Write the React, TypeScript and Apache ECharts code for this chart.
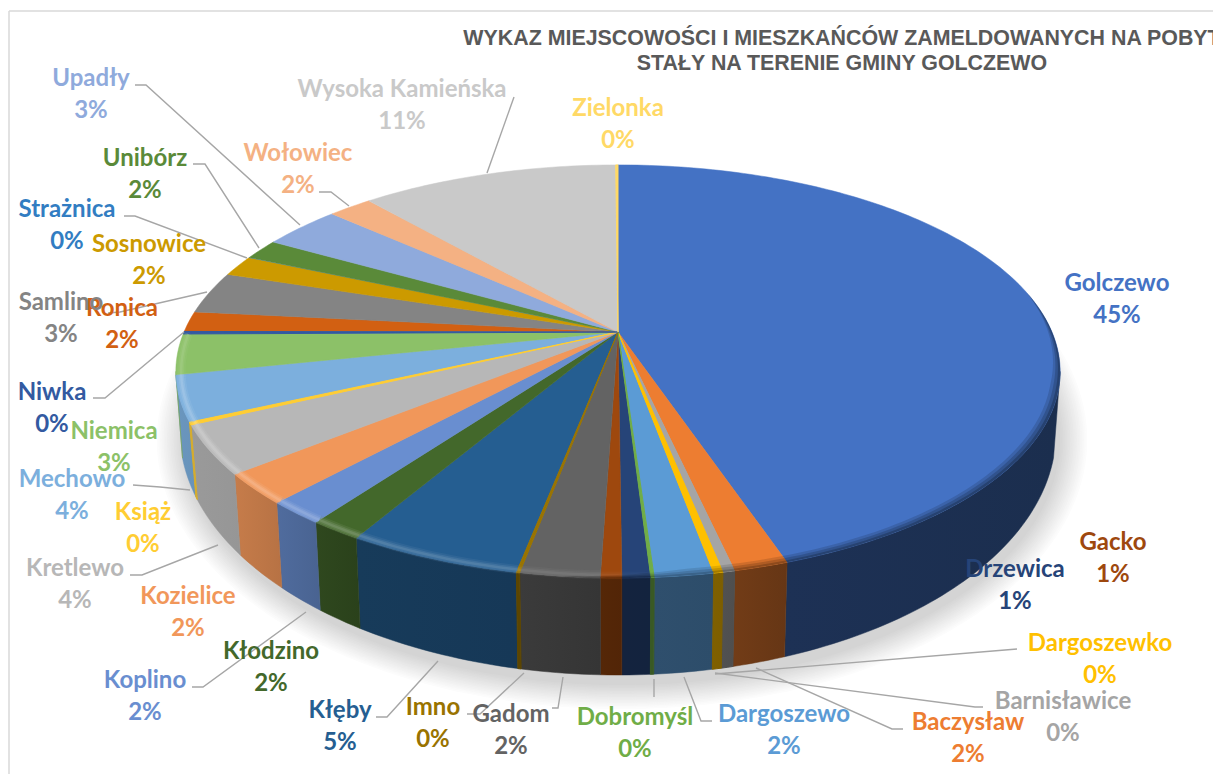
import React, { useEffect, useRef } from "react";
import * as echarts from "echarts";

const TITLE = "WYKAZ MIEJSCOWOŚCI I MIESZKAŃCÓW ZAMELDOWANYCH NA POBYT\nSTAŁY NA TERENIE GMINY GOLCZEWO";

const places = ["Golczewo","Baczysław","Barnisławice","Dargoszewko","Dargoszewo","Dobromyśl","Drzewica","Gacko","Gadom","Imno","Kłęby","Kłodzino","Koplino","Kozielice","Kretlewo","Książ","Mechowo","Niemica","Niwka","Ronica","Samlino","Sosnowice","Strażnica","Unibórz","Upadły","Wołowiec","Wysoka Kamieńska","Zielonka"];
const shares = [44.8,1.66,0.36,0.28,1.79,0.1,0.86,0.64,2.42,0.1,5.35,1.62,1.78,2.36,3.78,0.2,3.54,3.15,0.2,1.6,3.31,1.62,0.02,1.63,3.44,1.92,11.3,0.1];
const palette = ["#4472C4","#ED7D31","#A5A5A5","#FFC000","#5B9BD5","#70AD47","#264478","#9E480E","#636363","#997300","#255E91","#43682B","#698ED0","#F1975A","#B7B7B7","#FFCD33","#7CAFDD","#8CC168","#335AA1","#D26012","#848484","#CC9A00","#327DC2","#5A8A39","#8FAADC","#F4B183","#C9C9C9","#FFD966"];

// layout only: label centres, in the same order as places
const labelCentres: number[][] = [[1117,297],[968,736],[1063,715],[1100,657],[784,728],[635,731],[1015,583],[1113,556],[511,728],[433,721],[340,724],[271,665],[145,694],[188,610],[75,582],[143,526],[72,493],[114,445],[52,406],[122,322],[61,316],[149,258],[67,223],[145,172],[91,92],[298,167],[402,103],[618,122]];
const leaderLines: number[][][] = [
  [[1017,649],[1005,650],[715,674]],
  [[983,707],[975,707],[715,673]],
  [[903,729],[892,729],[756,668]],
  [[712,721],[701,721],[684,677]],
  [[654,679],[654,697]],
  [[552,708],[558,708],[563,677]],
  [[467,714],[480,714],[524,673]],
  [[376,717],[387,717],[438,661]],
  [[192,687],[203,687],[306,612]],
  [[130,575],[142,575],[218,545]],
  [[133,485],[160,487],[190,490]],
  [[93,398],[105,398],[184,332]],
  [[108,313],[120,312],[207,292]],
  [[124,216],[135,216],[247,258]],
  [[193,164],[205,164],[259,248]],
  [[135,85],[146,85],[300,225]],
  [[319,192],[331,192],[349,206]],
  [[514,97],[487,173]],
];

const CX = 618, CY = 332, A = 199, B = 434, K = 0.191;
const BOTTOM = { cy: 432, rx: 438, ry: 243, inset: 0.985 };
const total = shares.reduce((a, b) => a + b, 0);
const bounds: number[] = [0];
shares.forEach((v, i) => bounds.push(bounds[i] + (v / total) * 360));

function rim(deg: number): number[] {
  const t = (deg * Math.PI) / 180;
  const X = Math.sin(t), Y = -Math.cos(t), d = 1 - K * Y;
  return [CX + (B * X) / d, CY + (A * Y) / d];
}
function inner(deg: number, r: number): number[] {
  const p = rim(deg);
  return [CX + (p[0] - CX) * r, CY + (p[1] - CY) * r];
}
function foot(deg: number): number[] {
  const p = rim(deg);
  const dx = (p[0] - CX) * BOTTOM.inset;
  const q = Math.max(0, 1 - (dx / BOTTOM.rx) ** 2);
  return [CX + dx, BOTTOM.cy + BOTTOM.ry * Math.sqrt(q)];
}
function arcPoints(s: number, e: number, fn: (d: number) => number[]): number[][] {
  const n = Math.max(1, Math.ceil(e - s));
  const out: number[][] = [];
  for (let i = 0; i <= n; i++) out.push(fn(s + ((e - s) * i) / n));
  return out;
}
function rgb(h: string) { return [1, 3, 5].map((i) => parseInt(h.slice(i, i + 2), 16)); }
function scale(h: string, f: number) { const c = rgb(h).map((v) => Math.round(v * f)); return `rgb(${c[0]},${c[1]},${c[2]})`; }
function tint(h: string, f: number, a: number) { const c = rgb(h).map((v) => Math.round(v + (255 - v) * f)); return `rgba(${c[0]},${c[1]},${c[2]},${a})`; }
function lerpTable(tb: number[][], x: number) {
  if (x <= tb[0][0]) return tb[0][1];
  for (let i = 1; i < tb.length; i++) if (x <= tb[i][0]) {
    const [a, b] = tb[i - 1], [c, d] = tb[i];
    return b + ((d - b) * (x - a)) / (c - a);
  }
  return tb[tb.length - 1][1];
}
const wallShade = [[101,0.4],[160,0.42],[170,0.5],[180,0.52],[190,0.6],[210,0.62],[218,0.72],[230,0.82],[259,0.86]];
const glowStrength = [[172,0],[190,0.45],[210,0.85],[250,0.9],[262,0.55],[272,0]];
const bandDepth = [[78,0],[105,0.02],[130,0.024],[172,0.028],[186,0]];
const WALL_FROM = 101, WALL_TO = 259, GLOW_TO = 270;
const SHADOW_LAYERS = 16;
const shadowSteps = Array.from({ length: SHADOW_LAYERS + 1 }, (_, k) => SHADOW_LAYERS - k);

function renderShadow(params: any) {
  const i = shadowSteps[params.dataIndex];
  const f = 1 - i / (SHADOW_LAYERS + 1);
  const g = Math.round(255 - 43 * f);
  const rx = BOTTOM.rx + i * 1.7, ry = BOTTOM.ry + 2 + i * 1.5;
  const points = arcPoints(0, 360, (d) => {
    const t = (d * Math.PI) / 180;
    return [CX + 4 + rx * Math.cos(t), BOTTOM.cy + 8 + ry * Math.sin(t)];
  });
  return { type: "polygon", silent: true, z2: params.dataIndex, shape: { points }, style: { fill: `rgb(${g},${g},${g})` } };
}
function renderWall(params: any) {
  const i = params.dataIndex;
  const s = Math.max(bounds[i], WALL_FROM), e = Math.min(bounds[i + 1], WALL_TO);
  if (e <= s) return null;
  const pts = [...arcPoints(s, e, rim), ...arcPoints(s, e, foot).reverse()];
  const c = palette[i];
  const fill = new echarts.graphic.LinearGradient(0, 0, 1, 0, [
    { offset: 0, color: scale(c, lerpTable(wallShade, e)) },
    { offset: 1, color: scale(c, lerpTable(wallShade, s)) },
  ]);
  const thin = shares[i] < 0.4;
  return { type: "polygon", shape: { points: pts }, silent: true, z2: thin ? 5 : 1,
    style: { fill, stroke: shares[i] < 0.05 ? "none" : scale(c, lerpTable(wallShade, s)), lineWidth: thin ? 1 : 0.5, lineJoin: "round" } };
}
function renderFace(params: any) {
  const i = params.dataIndex, s = bounds[i], e = bounds[i + 1], c = palette[i];
  const thin = shares[i] < 0.4;
  const children: any[] = [{ type: "polygon", shape: { points: [[CX, CY], ...arcPoints(s, e, rim)] }, z2: thin ? 5 : 1,
    style: { fill: c, stroke: shares[i] < 0.05 ? "none" : c, lineWidth: thin ? 1 : 0.5, lineJoin: "round" } }];
  const gs = Math.max(s, WALL_FROM), ge = Math.min(e, GLOW_TO);
  if (ge > gs) {
    const g = lerpTable(glowStrength, (gs + ge) / 2);
    if (g > 0.02) {
      const points = arcPoints(gs, ge, (d) => inner(d, 0.988));
      [[9, 0.22], [5.5, 0.4], [2.5, 0.6]].forEach(([w, a]) =>
        children.push({ type: "polyline", shape: { points }, z2: 6, style: { fill: "none", stroke: tint(c, 0.32, a * g), lineWidth: w } }));
    }
  }
  const ds = Math.max(s, 78), de = Math.min(e, 186);
  if (de > ds) {
    const shade = Math.min(...[ds, de].map((d) => lerpTable(wallShade, d)));
    const cc = rgb(c).map((v) => Math.round(v * shade));
    [[1, 0.22], [0.65, 0.3], [0.3, 0.45]].forEach(([f, a]) => {
      const outer = arcPoints(ds, de, rim);
      const inside = arcPoints(ds, de, (d) => inner(d, 1 - lerpTable(bandDepth, d) * f)).reverse();
      children.push({ type: "polygon", shape: { points: [...outer, ...inside] }, z2: 6,
        style: { fill: `rgba(${cc[0]},${cc[1]},${cc[2]},${a})` } });
    });
  }
  return { type: "group", silent: true, children };
}
function renderLeaders(params: any) {
  return { type: "polyline", silent: true, shape: { points: leaderLines[params.dataIndex] },
    style: { fill: "none", stroke: "#A6A6A6", lineWidth: 1.4 } };
}
function renderLabel(params: any) {
  const i = params.dataIndex;
  const pct = Math.round((shares[i] / total) * 100);
  return { type: "text", silent: true, x: labelCentres[i][0], y: labelCentres[i][1],
    style: { text: `${places[i]}\n${pct}%`, fill: palette[i], align: "center", verticalAlign: "middle",
      font: '700 24px Lato', lineHeight: 32 } };
}

export default function App() {
  const ref = useRef<HTMLDivElement>(null);
  useEffect(() => {
    document.body.style.margin = "0";
    const chart = echarts.init(ref.current!, undefined, { renderer: "svg" });
    const rows = shares.map((v, i) => ({ name: places[i], value: v }));
    chart.setOption({
      animation: false,
      backgroundColor: "#ffffff",
      title: { text: TITLE, left: 837, top: 20, textAlign: "center",
        textStyle: { fontFamily: "Liberation Sans", fontWeight: 700, fontSize: 21.4, lineHeight: 25, color: "#595959" } },
      graphic: [
        { type: "line", silent: true, shape: { x1: 9, y1: 11, x2: 9, y2: 774 }, style: { stroke: "#D9D9D9", lineWidth: 1.5 } },
        { type: "line", silent: true, shape: { x1: 9, y1: 11, x2: 1213, y2: 11 }, style: { stroke: "#D9D9D9", lineWidth: 1.5 } },
      ],
      series: [
        { type: "custom", coordinateSystem: "none", z: 1, renderItem: renderShadow, data: shadowSteps, silent: true },
        { type: "custom", coordinateSystem: "none", z: 2, renderItem: renderWall, data: rows, silent: true },
        { type: "custom", coordinateSystem: "none", z: 3, renderItem: renderFace, data: rows, silent: true },
        { type: "custom", coordinateSystem: "none", z: 4, renderItem: renderLeaders, data: leaderLines.map((_, i) => i), silent: true },
        { type: "custom", coordinateSystem: "none", z: 5, renderItem: renderLabel, data: rows, silent: true },
      ],
    });
    return () => chart.dispose();
  }, []);
  return <div ref={ref} style={{ position: "absolute", left: 0, top: 0, width: 1213, height: 774 }} />;
}
